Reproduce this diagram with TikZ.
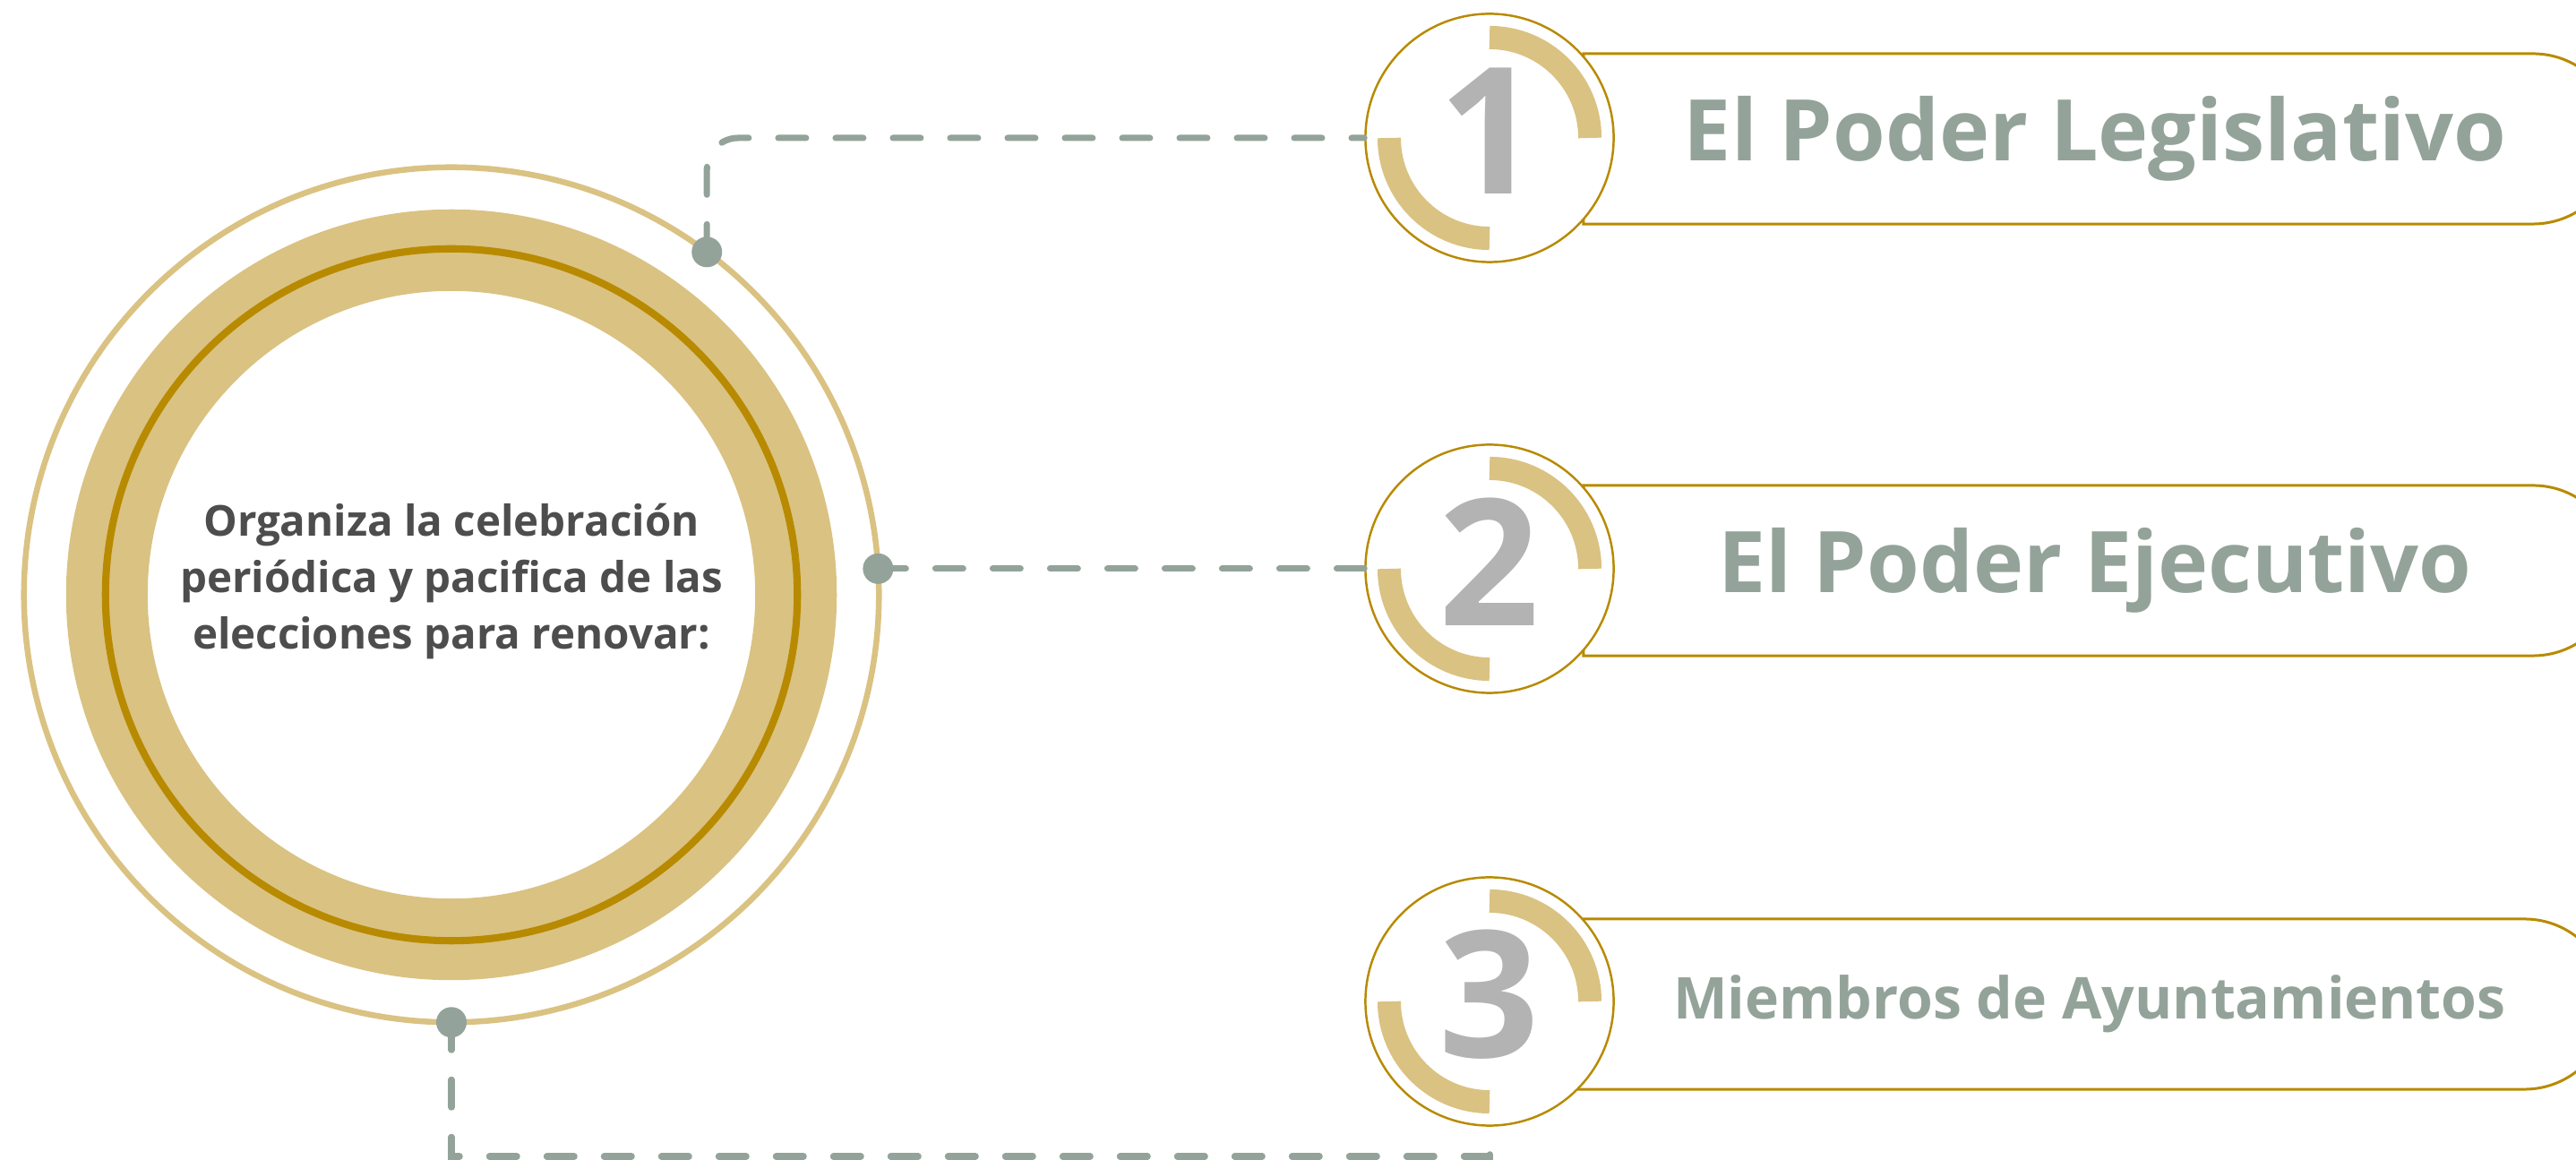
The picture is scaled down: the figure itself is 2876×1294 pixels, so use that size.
\documentclass[tikz,border=0pt]{standalone}
\usepackage{fontspec}
\setmainfont{Open Sans}
\usetikzlibrary{shapes.misc}

\definecolor{lightgold}{HTML}{DAC282}
\definecolor{darkgold}{HTML}{B88A00}
\definecolor{sage}{HTML}{93A39A}
\definecolor{digitgray}{HTML}{B3B3B3}
\definecolor{textgray}{HTML}{4D4D4D}

\tikzset{
    numcircle/.style={circle, draw=darkgold, fill=white, line width=0.7pt, minimum size=2.77cm, inner sep=0pt},
    digit/.style={text=digitgray, font=\bfseries\fontsize{56}{56}\selectfont, inner sep=0pt},
    labelbox/.style={rounded rectangle, rounded rectangle west arc=none, draw=darkgold, line width=0.85pt,
        minimum width=11.78cm, minimum height=1.9cm, text=sage, font=\bfseries\fontsize{27}{30}\selectfont},
    arcband/.style={lightgold, line width=7.4pt},
    connector/.style={sage, line width=2pt, line cap=round, dash pattern=on 8.8pt off 9.4pt},
    dot/.style={circle, fill=sage, minimum size=0.34cm, inner sep=0pt}
}

\begin{document}
\begin{tikzpicture}[x=0.01cm, y=0.01cm]
    \useasboundingbox (0,0) rectangle (2876,1294);

    % Central rings
    \coordinate (hub) at (504,630);
    \draw[lightgold, line width=1.85pt] (hub) circle (4.77cm);
    \fill[lightgold, even odd rule] (hub) circle (4.30cm) (hub) circle (3.39cm);
    \draw[darkgold, line width=2.3pt] (hub) circle (3.86cm);
    \node[align=center, text=textgray, font=\bfseries\fontsize{13.5}{17.9}\selectfont] (org) at ([yshift=0.15cm]hub)
        {Organiza la celebración\\periódica y pacifica de las\\elecciones para renovar:};

    % Label boxes (behind the number circles)
    \node[labelbox] (lab1) at (2339,1139) {El Poder Legislativo};
    \node[labelbox] (lab2) at (2339,657) {El Poder Ejecutivo};
    \node[labelbox, font=\bfseries\fontsize{18.3}{22}\selectfont] (lab3) at (2333,173) {Miembros de Ayuntamientos};

    % Number circles with their arcs
    \foreach \n/\y in {1/1140, 2/659, 3/176}{
        \node[numcircle] (num\n) at (1663,\y) {};
        \draw[arcband] ([shift={(90:1.12cm)}]num\n.center) arc (90:0:1.12cm);
        \draw[arcband] ([shift={(180:1.12cm)}]num\n.center) arc (180:270:1.12cm);
        \node[digit] (dig\n) at ([yshift=0.08cm]num\n.center) {\n};
    }

    % Dots on the outer ring
    \coordinate (p1) at ([shift={(53.3:4.77cm)}]hub);
    \coordinate (p2) at ([shift={(3.5:4.77cm)}]hub);
    \coordinate (p3) at ([shift={(-90:4.77cm)}]hub);
    \coordinate (low3) at (504,3);

    % Connectors
    \draw[connector, rounded corners=0.35cm] (p1) |- (num1.west);
    \draw[connector] (p2) -- (p2 -| num2.west);
    \draw[connector] (p3) -- (low3) -| (num3.south);

    \foreach \n in {1,2,3}{
        \node[dot] (dot\n) at (p\n) {};
    }
\end{tikzpicture}
\end{document}
